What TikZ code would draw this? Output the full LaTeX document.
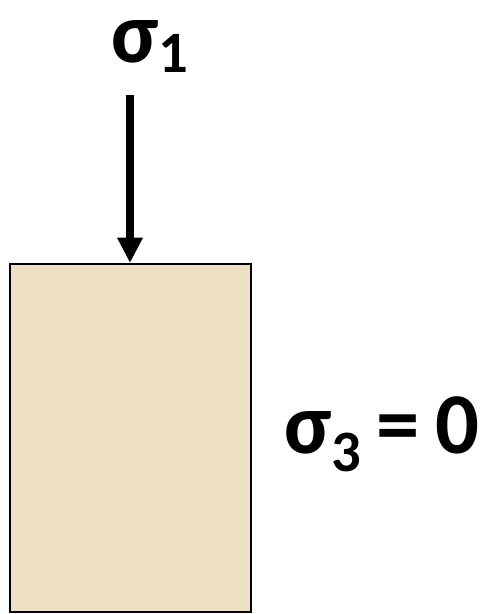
\documentclass[tikz,border=0pt]{standalone}
\usepackage{fontspec}
\setmainfont{Carlito}
\usetikzlibrary{arrows.meta}
\definecolor{stone}{RGB}{237,224,195}

\begin{document}
\begin{tikzpicture}[x=0.75pt, y=-0.75pt,
        specimen/.style={draw=black, line width=1.5pt, fill=stone},
        load/.style={-{Triangle[length=19pt, width=18pt]}, line width=6pt, draw=black},
        stress/.style={anchor=base west, inner sep=0pt, font=\fontsize{65}{68}\selectfont\bfseries}
    ]
        \useasboundingbox (0,0) rectangle (485,614);
        \node[specimen, minimum width=180.75pt, minimum height=261pt, inner sep=0pt, anchor=north west] (rock) at (9,263) {};
        \coordinate (loadtop) at (130,95);
        \node[stress] (sigmaone) at (111,62) {σ\raisebox{-7.5pt}{\fontsize{44}{46}\selectfont 1}};
        \node[stress] (sigmathree) at (284,453) {σ\raisebox{-14pt}{\fontsize{44}{46}\selectfont 3}\hspace{0.18em}=\hspace{0.18em}0};

        \draw[load] (loadtop) -- (rock.north -| loadtop);
    \end{tikzpicture}
\end{document}
